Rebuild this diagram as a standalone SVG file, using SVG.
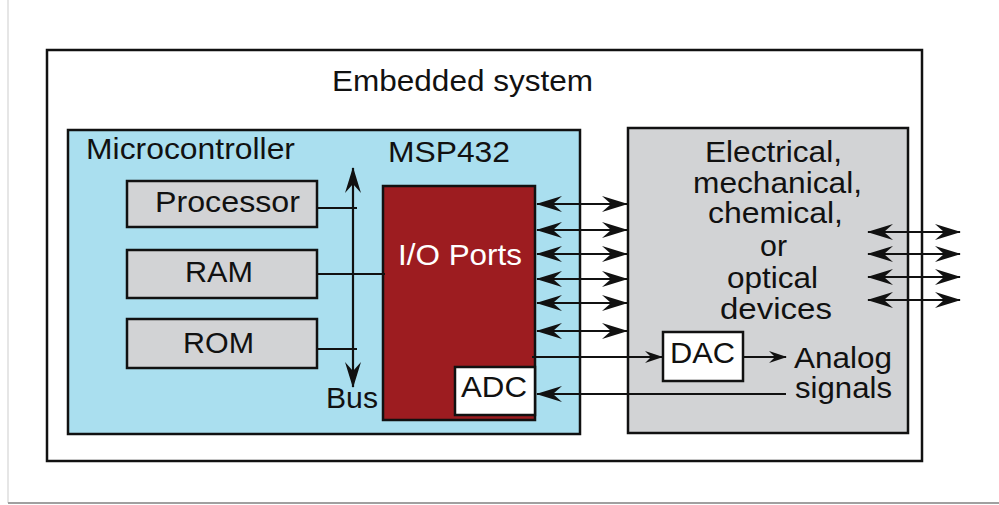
<svg xmlns="http://www.w3.org/2000/svg" width="999" height="505" viewBox="0 0 999 505">
<style>
text{font-family:"Liberation Sans",Arial,sans-serif;font-size:29px;fill:#111}
.box{stroke:#111;stroke-width:2.5}
.ln{stroke:#111;stroke-width:2.2;fill:none}
.dbl{marker-start:url(#ah);marker-end:url(#ah)}
</style>
<defs>
<marker id="ah" viewBox="0 0 26 16" refX="25" refY="8" markerWidth="26" markerHeight="16" markerUnits="userSpaceOnUse" orient="auto-start-reverse">
<path d="M0,0 L26,8 L0,16 L9,8 Z" fill="#111"/>
</marker>
<marker id="ahs" viewBox="0 0 18 12" refX="17" refY="6" markerWidth="18" markerHeight="12" markerUnits="userSpaceOnUse" orient="auto-start-reverse">
<path d="M0,0 L18,6 L0,12 L6,6 Z" fill="#111"/>
</marker>
</defs>
<rect width="999" height="505" fill="#fff"/>
<line x1="8" y1="0" x2="8" y2="503" stroke="#e6e6e6" stroke-width="2"/>
<line x1="8" y1="503" x2="999" y2="503" stroke="#a0a0a0" stroke-width="2"/>
<g id="embedded-system">
<rect x="47" y="50" width="875" height="411" fill="#fff" class="box"/>
<text x="332" y="91" textLength="261" lengthAdjust="spacingAndGlyphs">Embedded system</text>
</g>
<g id="microcontroller">
<rect x="68" y="130" width="512" height="304" fill="#AADFEF" class="box"/>
<text x="86" y="159" textLength="209" lengthAdjust="spacingAndGlyphs">Microcontroller</text>
<text x="388" y="162" textLength="122" lengthAdjust="spacingAndGlyphs">MSP432</text>
<text x="326" y="408" textLength="52" lengthAdjust="spacingAndGlyphs">Bus</text>
</g>
<g id="processor">
<rect x="127" y="181" width="190" height="46" fill="#D2D3D5" class="box"/>
<text x="155" y="212" textLength="145" lengthAdjust="spacingAndGlyphs">Processor</text>
</g>
<g id="ram">
<rect x="127" y="250" width="190" height="48" fill="#D2D3D5" class="box"/>
<text x="185" y="282" textLength="68" lengthAdjust="spacingAndGlyphs">RAM</text>
</g>
<g id="rom">
<rect x="127" y="319" width="190" height="49" fill="#D2D3D5" class="box"/>
<text x="183" y="353" textLength="71" lengthAdjust="spacingAndGlyphs">ROM</text>
</g>
<g id="io-ports">
<rect x="383" y="186" width="152" height="234" fill="#9D1C20" class="box"/>
<text x="398" y="265" textLength="124" lengthAdjust="spacingAndGlyphs" style="fill:#fff">I/O Ports</text>
</g>
<g id="adc">
<rect x="455" y="367" width="80" height="48" fill="#fff" class="box"/>
<text x="461" y="397" textLength="66" lengthAdjust="spacingAndGlyphs">ADC</text>
</g>
<g id="devices">
<rect x="628" y="128" width="280" height="305" fill="#D2D3D5" class="box"/>
<text x="705" y="162" textLength="137" lengthAdjust="spacingAndGlyphs">Electrical,</text>
<text x="693" y="193" textLength="169" lengthAdjust="spacingAndGlyphs">mechanical,</text>
<text x="708" y="223" textLength="135" lengthAdjust="spacingAndGlyphs">chemical,</text>
<text x="760" y="256" textLength="27" lengthAdjust="spacingAndGlyphs">or</text>
<text x="727" y="288" textLength="91" lengthAdjust="spacingAndGlyphs">optical</text>
<text x="720" y="319" textLength="112" lengthAdjust="spacingAndGlyphs">devices</text>
<text x="794" y="368" textLength="98" lengthAdjust="spacingAndGlyphs">Analog</text>
<text x="795" y="398" textLength="97" lengthAdjust="spacingAndGlyphs">signals</text>
</g>
<g id="dac">
<rect x="663" y="332" width="80" height="49" fill="#fff" class="box"/>
<text x="670" y="363" textLength="65" lengthAdjust="spacingAndGlyphs">DAC</text>
</g>
<g id="connectors">
<line x1="353" y1="168" x2="353" y2="387" class="ln dbl"/>
<line x1="317" y1="208" x2="357" y2="208" class="ln"/>
<line x1="317" y1="274" x2="385" y2="274" class="ln"/>
<line x1="317" y1="349" x2="357" y2="349" class="ln"/>
<line x1="537" y1="204" x2="627" y2="204" class="ln dbl"/>
<line x1="537" y1="230" x2="627" y2="230" class="ln dbl"/>
<line x1="537" y1="254" x2="627" y2="254" class="ln dbl"/>
<line x1="537" y1="279" x2="627" y2="279" class="ln dbl"/>
<line x1="537" y1="303" x2="627" y2="303" class="ln dbl"/>
<line x1="537" y1="331" x2="627" y2="331" class="ln dbl"/>
<line x1="532" y1="357" x2="662" y2="357" class="ln" marker-end="url(#ahs)"/>
<line x1="743" y1="357" x2="786" y2="357" class="ln" marker-end="url(#ahs)"/>
<line x1="786" y1="394" x2="537" y2="394" class="ln" marker-end="url(#ah)"/>
<line x1="868" y1="232" x2="960" y2="232" class="ln dbl"/>
<line x1="868" y1="254" x2="960" y2="254" class="ln dbl"/>
<line x1="868" y1="277" x2="960" y2="277" class="ln dbl"/>
<line x1="868" y1="300" x2="960" y2="300" class="ln dbl"/>
</g>
</svg>
